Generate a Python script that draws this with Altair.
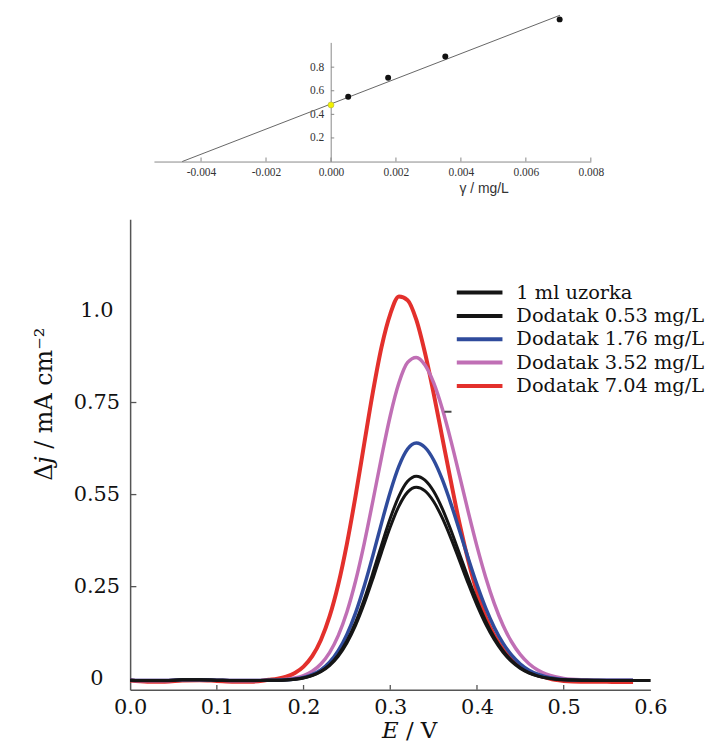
import altair as alt
import pandas as pd

# ---------------- main chart data ----------------
E = [0.00, 0.02, 0.04, 0.06, 0.08, 0.10, 0.12, 0.14, 0.16, 0.17,
     0.18, 0.19, 0.20, 0.21, 0.22, 0.23, 0.24, 0.25, 0.26, 0.27, 0.28,
     0.29, 0.30, 0.31, 0.32, 0.33, 0.34, 0.35, 0.36, 0.37, 0.38, 0.39,
     0.40, 0.41, 0.42, 0.43, 0.44, 0.45, 0.46, 0.47, 0.48, 0.49, 0.50,
     0.52, 0.54, 0.56, 0.58, 0.60]

series_names = ["1 ml uzorka", "Dodatak 0.53 mg/L", "Dodatak 1.76 mg/L",
                "Dodatak 3.52 mg/L", "Dodatak 7.04 mg/L"]
series_colors = ["#151515", "#151515", "#2f4b9c", "#c06fb5", "#e3302c"]
series_widths = [3, 3, 3.5, 3.5, 4]

j_sample = [-0.004, -0.005, -0.005, -0.003, -0.003, -0.004, -0.005, -0.005, -0.004, -0.004,
            -0.0033, -0.0015, 0.0019, 0.0082, 0.0187, 0.0356, 0.061, 0.0971, 0.1448, 0.204,
            0.2717, 0.3436, 0.4119, 0.4689, 0.5067, 0.52, 0.510, 0.4812, 0.4365, 0.381,
            0.3197, 0.2578, 0.1997, 0.1484, 0.1057, 0.0718, 0.0463, 0.028, 0.0154, 0.0071,
            0.0019, -0.0012, -0.003, -0.004, -0.005, -0.005, -0.005, -0.005]
j_053 = [-0.004, -0.005, -0.005, -0.003, -0.003, -0.004, -0.005, -0.005, -0.004, -0.004,
         -0.0033, -0.0013, 0.0023, 0.0089, 0.0201, 0.0379, 0.0648, 0.1029, 0.1533, 0.2159,
         0.2876, 0.3635, 0.4357, 0.496, 0.536, 0.550, 0.5394, 0.509, 0.4618, 0.403,
         0.3382, 0.2728, 0.2114, 0.1572, 0.112, 0.0762, 0.0492, 0.0299, 0.0165, 0.0078,
         0.0023, -0.0009, -0.0029, -0.004, -0.004, -0.005, -0.005, -0.005]
j_176 = [-0.004, -0.005, -0.005, -0.003, -0.003, -0.004, -0.005, -0.005, -0.004, -0.004,
         -0.003, -0.0007, 0.0035, 0.0112, 0.0242, 0.0449, 0.0761, 0.1204, 0.179, 0.2517,
         0.3349, 0.4233, 0.5071, 0.5772, 0.6237, 0.64, 0.6282, 0.594, 0.5411, 0.4748,
         0.4012, 0.3265, 0.2556, 0.1925, 0.1392, 0.0965, 0.0638, 0.04, 0.0233, 0.0122,
         0.0051, 0.0007, -0.0019, -0.004, -0.004, -0.004, -0.004, None]
j_352 = [-0.004, -0.005, -0.005, -0.003, -0.003, -0.004, -0.005, -0.005, -0.004, -0.004,
         -0.0017, 0.0018, 0.0085, 0.0203, 0.040, 0.071, 0.117, 0.1813, 0.2653, 0.3676,
         0.4832, 0.6026, 0.7141, 0.8035, 0.8588, 0.8724, 0.8518, 0.8038, 0.733, 0.646,
         0.5501, 0.4525, 0.3595, 0.2758, 0.2041, 0.1454, 0.0997, 0.0653, 0.0407, 0.0237,
         0.0125, 0.0053, 0.0008, -0.003, -0.004, -0.004, -0.004, None]
j_704 = [-0.005, -0.008, -0.008, -0.005, -0.004, -0.006, -0.008, -0.008, -0.003, 0.0,
         0.0056, 0.0155, 0.0329, 0.0612, 0.1053, 0.1691, 0.2559, 0.3663, 0.4967, 0.6387,
         0.779, 0.9016, 0.9903, 1.038, 1.028, 0.975, 0.885, 0.775, 0.655, 0.535,
         0.42, 0.32, 0.235, 0.168, 0.118, 0.08, 0.052, 0.033, 0.019, 0.01,
         0.003, -0.003, -0.006, -0.008, -0.008, -0.009, -0.009, None]
series_values = [j_sample, j_053, j_176, j_352, j_704]

x_tick_values = [0.0, 0.1, 0.2, 0.3, 0.4, 0.5, 0.6]
x_inner_ticks = [0.1, 0.2, 0.3, 0.4, 0.5]
y_tick_values = [0.0, 0.25, 0.5, 0.75, 1.0]
y_tick_labels = ["0", "0.25", "0.55", "0.75", "1.0"]
y_inner_ticks = [0.25, 0.5, 0.75]

dash_x = [0.3625, 0.3706]
dash_y = [0.725]

# ---------------- inset data ----------------
add_conc = [0.00053, 0.00176, 0.00352, 0.00704]
add_resp = [0.55, 0.71, 0.89, 1.205]
sample_conc = [0.0]
sample_resp = [0.48]
fit_x = [-0.00458, 0.00705]
fit_y = [0.0, 1.24]
inset_x_ticks = [-0.004, -0.002, 0.0, 0.002, 0.004, 0.006, 0.008]
inset_x_labels = ["-0.004", "-0.002", "0.000", "0.002", "0.004", "0.006", "0.008"]
inset_y_ticks = [0.2, 0.4, 0.6, 0.8]

SERIF = "DejaVu Serif"
AX = "#555555"

# ---------------- build main ----------------
rows = []
for name, vals in zip(series_names, series_values):
    for e, v in zip(E, vals):
        if v is not None:
            rows.append({"E": e, "j": v, "series": name})
df = pd.DataFrame(rows)

y_expr = " : ".join(
    f"abs(datum.value - {v}) < 1e-6 ? '{t}'" for v, t in zip(y_tick_values, y_tick_labels)
) + " : ''"

xs = alt.Scale(domain=[0, 0.6], nice=False, zero=False)
ys = alt.Scale(domain=[-0.03, 1.248], nice=False, zero=False)

x_axis = alt.Axis(values=x_tick_values, format=".1f", ticks=False, tickSize=0, grid=False,
                  labelFont=SERIF, labelFontSize=21, labelColor="#111", labelPadding=7,
                  labelFlush=False, labelOverlap=False,
                  domainColor=AX, domainWidth=1.5,
                  title="𝐸 / V", titleFont=SERIF, titleFontSize=23, titleFontWeight="normal",
                  titleColor="#111", titleX=281, titleY=41, titleBaseline="middle",
                  titleAlign="center")
y_axis = alt.Axis(values=y_tick_values, labelExpr=y_expr, ticks=False, tickSize=0, grid=False,
                  labelFont=SERIF, labelFontSize=21, labelColor="#111", labelPadding=34,
                  labelAlign="center", labelBaseline="middle", labelFlush=False,
                  labelOverlap=False,
                  domainColor=AX, domainWidth=1.5,
                  title="Δ𝑗 / mA cm⁻²", titleFont=SERIF, titleFontSize=24,
                  titleFontWeight="normal", titleColor="#111", titleAngle=270,
                  titleX=-86, titleY=186, titleBaseline="middle", titleAlign="center")

legend = alt.Legend(title=None, orient="none", legendX=327, legendY=64,
                    symbolType="stroke", symbolSize=2116, symbolStrokeWidth=4,
                    labelFont=SERIF, labelFontSize=19.5, labelColor="#111", labelLimit=400,
                    labelOffset=12, clipHeight=20, rowPadding=3.5, padding=0)

color = alt.Color("series:N", scale=alt.Scale(domain=series_names, range=series_colors),
                  legend=legend)

draw_order = [4, 3, 2, 1, 0]
line_layers = []
for i in draw_order:
    line_layers.append(
        alt.Chart(df).transform_filter(alt.datum.series == series_names[i])
        .mark_line(strokeWidth=series_widths[i], interpolate="monotone")
        .encode(x=alt.X("E:Q", scale=xs, axis=x_axis),
                y=alt.Y("j:Q", scale=ys, axis=y_axis),
                color=color)
    )

xt = alt.Chart(pd.DataFrame({"v": x_inner_ticks})).mark_rule(color=AX, strokeWidth=1.3).encode(
    x=alt.X("v:Q", scale=xs), y=alt.datum(-0.03), y2=alt.datum(-0.017))
yt = alt.Chart(pd.DataFrame({"v": y_inner_ticks})).mark_rule(color=AX, strokeWidth=1.3).encode(
    y=alt.Y("v:Q", scale=ys), x=alt.datum(0.0), x2=alt.datum(0.0072))
dash = alt.Chart(pd.DataFrame({"x1": [dash_x[0]], "x2": [dash_x[1]], "y": dash_y})).mark_rule(
    color="#444", strokeWidth=2).encode(x=alt.X("x1:Q", scale=xs), x2="x2:Q",
                                        y=alt.Y("y:Q", scale=ys))

main = alt.layer(*line_layers, xt, yt, dash)

# ---------------- build inset ----------------
ix_expr = " : ".join(
    f"abs(datum.value - ({v})) < 1e-9 ? '{t}'" for v, t in zip(inset_x_ticks, inset_x_labels)
) + " : ''"
ixs = alt.Scale(domain=[-0.00545, 0.008], range=[24, 464], nice=False, zero=False)
iys = alt.Scale(domain=[0, 1.01], range=[-58, -178], nice=False, zero=False)
ix_axis = alt.Axis(orient="bottom", offset=-532, values=inset_x_ticks, labelExpr=ix_expr,
                   ticks=False, tickSize=0, grid=False, labelPadding=5,
                   labelFlush=False, labelOverlap=False,
                   labelFont="Liberation Serif", labelFontSize=11.5, labelColor="#333",
                   domainColor="#888", domainWidth=1,
                   title="γ / mg/L", titleFont="Liberation Sans", titleFontSize=14,
                   titleFontWeight="normal", titleColor="#333", titleX=356, titleY=27,
                   titleBaseline="middle", titleAlign="center")
iy_axis = alt.Axis(orient="left", offset=-202, values=inset_y_ticks, format=".1f",
                   ticks=False, tickSize=0, grid=False, labelPadding=7, labelFlush=False,
                   labelFont="Liberation Serif", labelFontSize=11.5, labelColor="#333",
                   labelBaseline="middle", domainColor="#888", domainWidth=1, title="")

fit = alt.Chart(pd.DataFrame({"c": fit_x, "r": fit_y})).mark_line(color="#666", strokeWidth=1).encode(
    x=alt.X("c:Q", scale=ixs, axis=ix_axis), y=alt.Y("r:Q", scale=iys, axis=iy_axis))
ixt = alt.Chart(pd.DataFrame({"c": inset_x_ticks})).mark_rule(color="#888", strokeWidth=1).encode(
    x=alt.X("c:Q", scale=ixs), y=alt.datum(0.0), y2=alt.datum(0.034))
iyt = alt.Chart(pd.DataFrame({"r": inset_y_ticks})).mark_rule(color="#888", strokeWidth=1).encode(
    y=alt.Y("r:Q", scale=iys), x=alt.datum(0.0), x2=alt.datum(0.0001))
pts = alt.Chart(pd.DataFrame({"c": add_conc, "r": add_resp})).mark_circle(
    size=36, color="#111", opacity=1).encode(x=alt.X("c:Q", scale=ixs), y=alt.Y("r:Q", scale=iys))
ypt = alt.Chart(pd.DataFrame({"c": sample_conc, "r": sample_resp})).mark_point(
    shape="circle", size=36, filled=True, fill="#f2f200", stroke="#b0b040", strokeWidth=0.6,
    opacity=1).encode(x=alt.X("c:Q", scale=ixs), y=alt.Y("r:Q", scale=iys))

inset = alt.layer(fit, ixt, iyt, pts, ypt)

chart = alt.layer(main, inset).resolve_scale(
    x="independent", y="independent"
).resolve_axis(x="independent", y="independent").properties(
    width=524, height=474,
    autosize=alt.AutoSizeParams(type="none"),
    padding={"left": 123, "top": 210, "right": 57, "bottom": 54},
    background="white",
).configure_view(stroke=None)

chart.save("out.html", embed_options={"renderer": "svg", "actions": False})
